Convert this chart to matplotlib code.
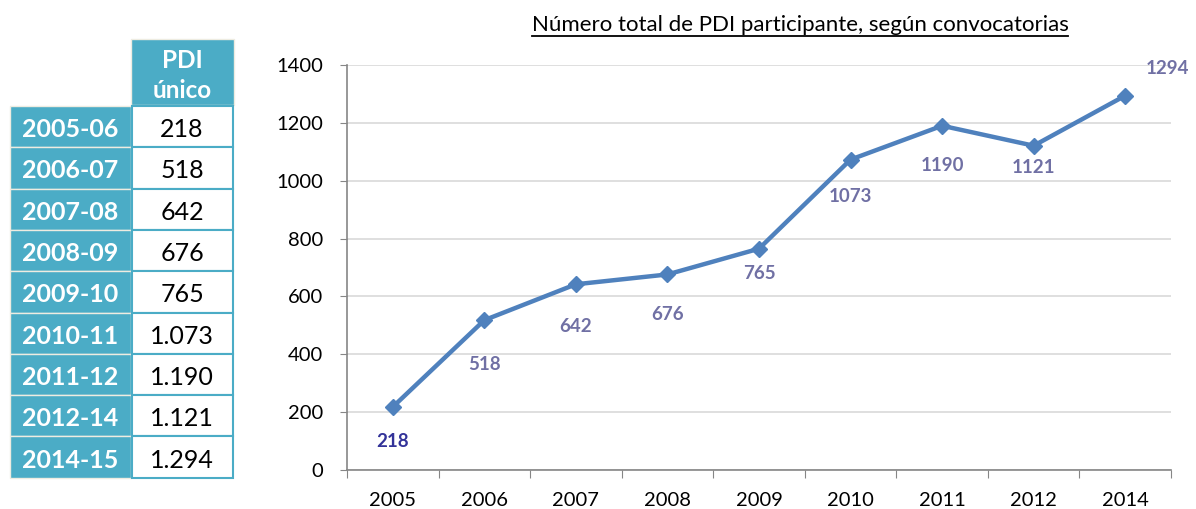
import matplotlib.pyplot as plt
from matplotlib.patches import Rectangle
from matplotlib.lines import Line2D

plt.rcParams['font.family'] = ['Lato', 'DejaVu Sans']

# data
years = ['2005', '2006', '2007', '2008', '2009', '2010', '2011', '2012', '2014']
pdi = [218, 518, 642, 676, 765, 1073, 1190, 1121, 1294]
periods = ['2005-06', '2006-07', '2007-08', '2008-09', '2009-10',
           '2010-11', '2011-12', '2012-14', '2014-15']
table_vals = ['218', '518', '642', '676', '765', '1.073', '1.190', '1.121', '1.294']
title = 'Número total de PDI participante, según convocatorias'

W, H = 1196, 509
fig = plt.figure(figsize=(W / 100, H / 100), dpi=100)

# ---- table (pixel overlay) ----
tab = fig.add_axes([0, 0, 1, 1])
tab.set_xlim(0, W)
tab.set_ylim(H, 0)
tab.axis('off')
teal = '#4BACC6'
tab.add_patch(Rectangle((131, 39), 103, 66, facecolor=teal, edgecolor='#EEECE1', lw=1))
tab.text(182, 60, 'PDI', ha='center', va='center', color='white',
         fontsize=17.5, fontweight='bold')
tab.text(182, 90, 'único', ha='center', va='center', color='white',
         fontsize=17.5, fontweight='bold')
row_top, row_h = 106, 41.3
for i, (p, v) in enumerate(zip(periods, table_vals)):
    y0 = row_top + i * row_h
    tab.add_patch(Rectangle((10, y0), 121, row_h, facecolor=teal,
                            edgecolor='#EEECE1', lw=1))
    tab.add_patch(Rectangle((132, y0), 101, row_h, facecolor='white',
                            edgecolor=teal, lw=1.5))
    tab.text(70, y0 + row_h / 2 + 3, p, ha='center', va='center', color='white',
             fontsize=18, fontweight='bold')
    tab.text(182, y0 + row_h / 2 + 3, v, ha='center', va='center', color='black',
             fontsize=18)

# ---- line chart ----
ax = fig.add_axes([347 / W, 1 - 470 / H, (1171 - 347) / W, (470 - 65) / H])
x = list(range(len(years)))
ax.plot(x, pdi, color='#4F81BD', lw=3.2, marker='D', markersize=8, zorder=3)
ax.set_xlim(-0.5, len(years) - 0.5)
ax.set_ylim(0, 1400)
ax.set_yticks(range(0, 1401, 200))
ax.set_xticks([i - 0.5 for i in range(len(years) + 1)])
ax.set_xticklabels([])
ax.set_xticks(x, minor=True)
ax.set_xticklabels(years, minor=True)
ax.tick_params(axis='x', which='major', length=6, color='#868686', direction='out')
ax.tick_params(axis='x', which='minor', length=0, pad=16, labelsize=14.5)
ax.tick_params(axis='y', length=5, color='#868686', labelsize=14.5, pad=12)
ax.grid(axis='y', color='#D9D9D9', lw=1.2)
ax.set_axisbelow(True)
for s in ['top', 'right']:
    ax.spines[s].set_visible(False)
for s in ['left', 'bottom']:
    ax.spines[s].set_color('#868686')
    ax.spines[s].set_linewidth(1.2)

for i, v in enumerate(pdi):
    col = '#333399' if i == 0 else '#7070A4'
    if i == len(pdi) - 1:
        ax.annotate(str(v), (i, v), xytext=(42, 27), textcoords='offset pixels',
                    ha='center', va='center', color=col, fontsize=13.5,
                    fontweight='bold')
    else:
        off = {0: -35, 1: -44, 2: -42, 3: -40, 4: -25, 5: -37, 6: -40, 7: -22}[i]
        ax.annotate(str(v), (i, v), xytext=(0, off), textcoords='offset pixels',
                    ha='center', va='center', color=col, fontsize=13.5,
                    fontweight='bold')

# title with underline
t = fig.text(800 / W, 1 - 25 / H, title, ha='center', va='center', fontsize=16)
fig.canvas.draw()
bb = t.get_window_extent()
uy = bb.y0 - 1
fig.add_artist(Line2D([bb.x0 / W, bb.x1 / W], [uy / H, uy / H], color='black',
                      lw=1.3, transform=fig.transFigure))

fig.savefig('out.png', dpi=100)
